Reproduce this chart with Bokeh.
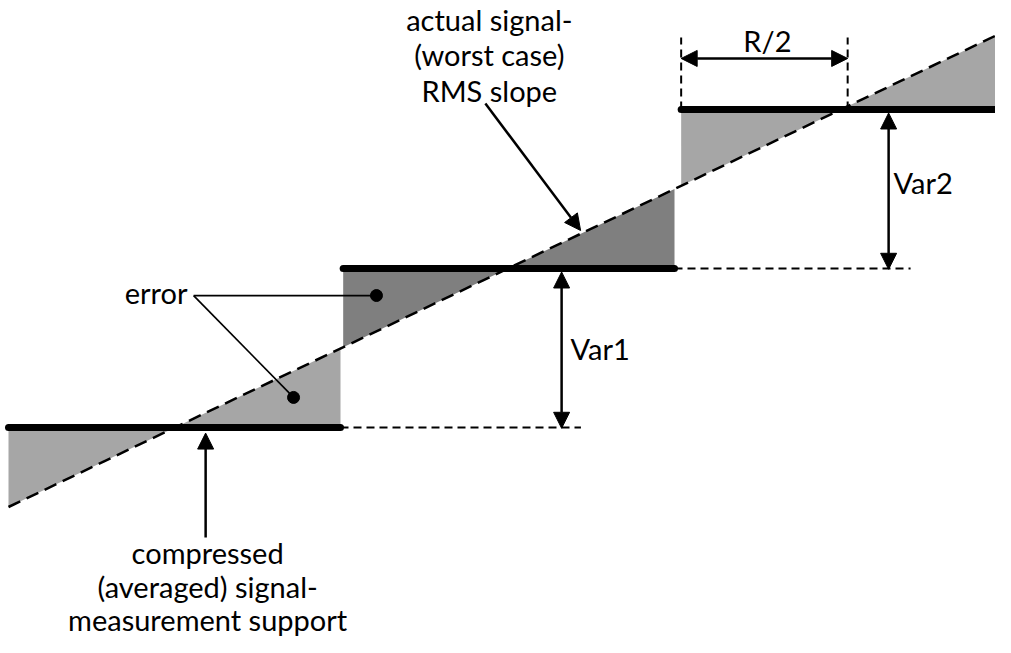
from bokeh.plotting import figure
from bokeh.models import Range1d, Arrow, NormalHead
from bokeh.core.properties import value
from bokeh.embed import file_html
from bokeh.resources import INLINE

# ---- data (abstract units: one step = R = 1 in x, one level = 1 in y) ----
levels = [0, 1, 2]
step_start = [0.0, 1.005, 2.02]
step_end = [0.997, 2.0, 3.0]
fill_colors = ["#a6a6a6", "#7f7f7f", "#a6a6a6"]
signal_x = [0.0, 2.99]
signal_offset = 0.5          # actual signal: y = x - 0.5
var_x = [1.661, 2.643]       # positions of Var1 / Var2 arrows
var_labels = ["Var1", "Var2"]
half_R = 0.5

FONT = value("Lato")
FS = "29px"

# pixel geometry of the sketch (px per unit)
SX, SY = 333.0, 159.0
W, H = 995, 637
x_lo = -8 / SX
x_hi = x_lo + W / SX
y_hi = 427 / SY
y_lo = y_hi - H / SY

p = figure(width=W, height=H, output_backend="svg", toolbar_location=None,
           x_range=Range1d(x_lo, x_hi), y_range=Range1d(y_lo, y_hi),
           x_axis_location=None, y_axis_location=None, min_border=0)
p.grid.visible = False
p.outline_line_color = None
p.background_fill_color = "white"
p.border_fill_color = "white"

# ---- error triangles ----
xs, ys, cols = [], [], []
for lv, a, b, c in zip(levels, step_start, step_end, fill_colors):
    cx = lv + signal_offset
    xs.append([a, a, cx]); ys.append([lv, a - signal_offset, lv]); cols.append(c)
    xs.append([cx, b, b]); ys.append([lv, lv, b - signal_offset]); cols.append(c)
p.patches(xs, ys, fill_color=cols, line_color=None)

# ---- actual signal (dashed) ----
p.line(signal_x, [x - signal_offset for x in signal_x], line_color="black",
       line_width=2.5, line_dash="13 7")

# ---- compressed steps ----
p.segment(x0=step_start, y0=levels, x1=step_end, y1=levels, line_color="black",
          line_width=7, line_cap="round")

# ---- thin dashed extensions ----
ext_end = [var_x[0] + 0.058, var_x[1] + 0.066]
p.segment(x0=step_end[:2], y0=levels[:2], x1=ext_end, y1=levels[:2],
          line_color="black", line_width=2, line_dash="8 5")

# R/2 dashed verticals
r_x = [step_start[2], step_start[2] + half_R]
r_top = 2.453
p.segment(x0=r_x, y0=[levels[2]] * 2, x1=r_x, y1=[r_top] * 2,
          line_color="black", line_width=2, line_dash="8 5")

def head():
    return NormalHead(size=16, fill_color="black", line_color="black")

# Var arrows
for i, vx in enumerate(var_x):
    p.add_layout(Arrow(start=head(), end=head(), x_start=vx, y_start=levels[i] - 0.005,
                       x_end=vx, y_end=levels[i + 1] - 0.022,
                       line_color="black", line_width=2.5))
# R/2 arrow
p.add_layout(Arrow(start=head(), end=head(), x_start=r_x[0], y_start=2.321,
                   x_end=r_x[1], y_end=2.321, line_color="black", line_width=2.5))
# compressed arrow
p.add_layout(Arrow(end=head(), x_start=0.592, y_start=-0.692, x_end=0.592, y_end=-0.035,
                   line_color="black", line_width=2.5))
# RMS slope arrow
p.add_layout(Arrow(end=head(), x_start=1.432, y_start=2.038, x_end=1.718, y_end=1.239,
                   line_color="black", line_width=2.5))

# error leader lines and dots
err_origin = (0.556, 0.830)
dots_x = [1.105, 0.856]
dots_y = [0.830, 0.189]
p.segment(x0=[err_origin[0]] * 2, y0=[err_origin[1]] * 2, x1=dots_x, y1=dots_y,
          line_color="black", line_width=1.7)
p.scatter(dots_x, dots_y, size=12, color="black")

# ---- texts ----
def txt(x, y, s, align="center"):
    p.text(x=[x], y=[y], text=[s], text_font=FONT, text_font_size=FS,
           text_align=align, text_baseline="alphabetic", text_color="black")

txt(1.444, 2.563, "actual signal-")
txt(1.444, 2.343, "(worst case)")
txt(1.444, 2.120, "RMS slope")
txt(2.279, 2.434, "R/2")
txt(2.658, 1.541, var_labels[1], "left")
txt(1.688, 0.497, var_labels[0], "left")
txt(0.5375, 0.849, "error", "right")
txt(0.598, -0.786, "compressed")
txt(0.598, -1.000, "(averaged) signal-")
txt(0.598, -1.207, "measurement support")

open("out.html", "w").write(file_html(p, INLINE))
